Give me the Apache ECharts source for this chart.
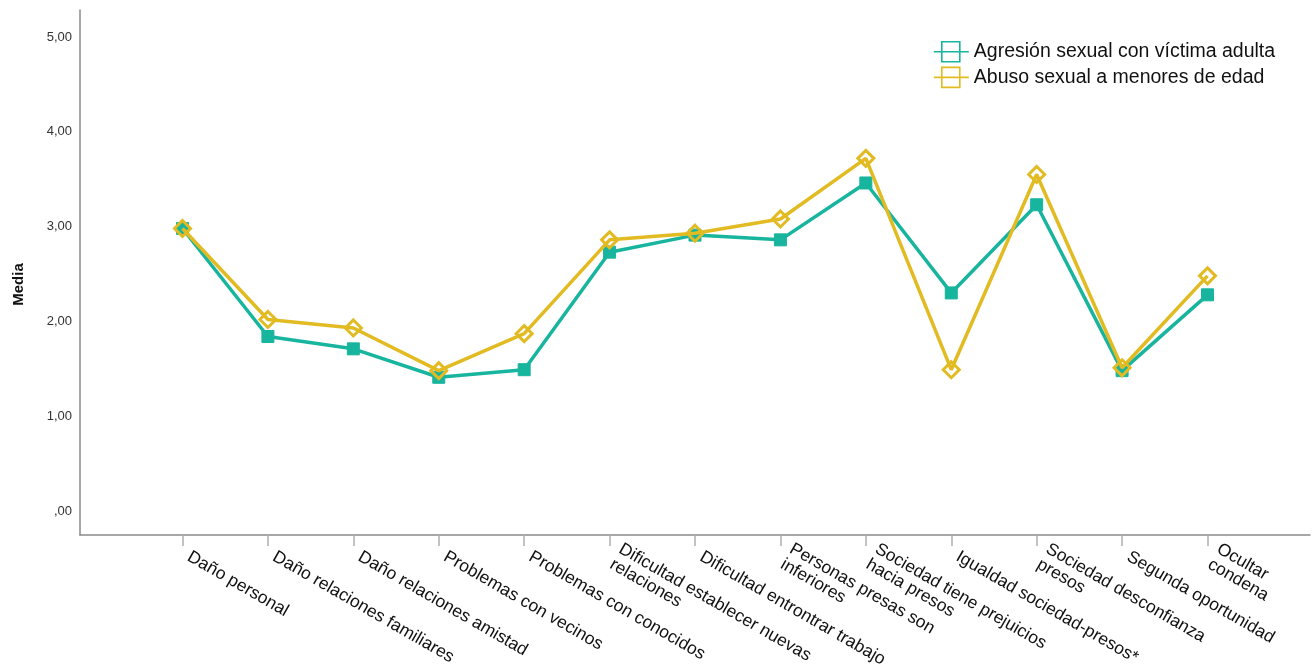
<!DOCTYPE html>
<html>
<head>
<meta charset="utf-8">
<script src="https://cdn.jsdelivr.net/npm/echarts@6/dist/echarts.min.js"></script>
<style>
html,body{margin:0;padding:0;background:#fff;}
#chart{width:1314px;height:666px;}
</style>
</head>
<body>
<div id="chart"></div>
<script>
const categories = [
  "Daño personal",
  "Daño relaciones familiares",
  "Daño relaciones amistad",
  "Problemas con vecinos",
  "Problemas con conocidos",
  "Dificultad establecer nuevas\nrelaciones",
  "Dificultad entrontrar trabajo",
  "Personas presas son\ninferiores",
  "Sociedad tiene prejuicios\nhacia presos",
  "Igualdad sociedad-presos*",
  "Sociedad desconfianza\npresos",
  "Segunda oportunidad",
  "Ocultar\ncondena"
];
const seriesNames = ["Agresión sexual con víctima adulta", "Abuso sexual a menores de edad"];
const agresionAdulta = [2.98, 1.84, 1.71, 1.41, 1.49, 2.73, 2.91, 2.86, 3.46, 2.30, 3.23, 1.48, 2.28];
const abusoMenores   = [2.98, 2.02, 1.93, 1.48, 1.87, 2.86, 2.93, 3.08, 3.72, 1.49, 3.55, 1.51, 2.48];
const yTicks = [0, 1, 2, 3, 4, 5];

const TEAL = '#18b59e';
const GOLD = '#e2bb22';
const FONT = '"Liberation Sans", Arial, sans-serif';
const LEGEND_ICON = 'path://M0,10L35,10M8,0L26,0L26,20L8,20Z';

function toPairs(arr){ return arr.map((v,i)=>[i,v]); }
const catIdx = categories.map((c,i)=>i);

const chart = echarts.init(document.getElementById('chart'), null, {renderer:'canvas'});
chart.setOption({
  animation: false,
  backgroundColor: '#fff',
  textStyle: {fontFamily: FONT},
  grid: {left: 80, top: 10, right: 4, bottom: 131, containLabel: false, outerBoundsMode: 'none'},
  legend: {
    orient: 'vertical',
    left: 928,
    top: 36,
    itemWidth: 35,
    itemHeight: 20,
    itemGap: 4,
    textStyle: {fontSize: 19.5, color: '#111', fontFamily: FONT},
    data: [
      {name: seriesNames[0], icon: LEGEND_ICON, itemStyle: {color: 'rgba(255,255,255,0)', borderColor: TEAL, borderWidth: 1.6}},
      {name: seriesNames[1], icon: LEGEND_ICON, itemStyle: {color: 'rgba(255,255,255,0)', borderColor: GOLD, borderWidth: 1.6}}
    ]
  },
  xAxis: {
    type: 'value',
    min: -1.2,
    max: 13.2,
    splitLine: {show: false},
    axisLine: {show: true, onZero: false, lineStyle: {color: '#8a8a8a', width: 1.5}},
    axisTick: {show: true, customValues: catIdx, length: 11, lineStyle: {color: '#b0b0b0', width: 1.5}},
    axisLabel: {
      customValues: catIdx,
      rotate: -30,
      margin: 17,
      padding: [0, 0, 0, 7],
      fontSize: 17.5,
      color: '#111',
      lineHeight: 18,
      fontFamily: FONT,
      formatter: function(v){ return categories[Math.round(v)] || ''; }
    }
  },
  yAxis: {
    type: 'value',
    min: -0.254,
    max: 5.285,
    name: 'Media',
    nameLocation: 'middle',
    nameGap: 54,
    nameTextStyle: {fontSize: 15, fontWeight: 'bold', color: '#111', fontFamily: FONT, padding: [0,0,0,-24]},
    splitLine: {show: false},
    axisLine: {show: true, onZero: false, lineStyle: {color: '#8a8a8a', width: 1.5}},
    axisTick: {show: false},
    axisLabel: {
      customValues: yTicks,
      margin: 8,
      fontSize: 13,
      color: '#333',
      fontFamily: FONT,
      formatter: function(v){ return v === 0 ? ',00' : v.toFixed(2).replace('.', ','); }
    }
  },
  series: [
    {
      name: seriesNames[0],
      type: 'line',
      data: toPairs(agresionAdulta),
      symbol: 'rect',
      symbolSize: 12,
      lineStyle: {color: TEAL, width: 3.5},
      itemStyle: {color: TEAL, borderColor: TEAL, borderWidth: 1},
      z: 2
    },
    {
      name: seriesNames[1],
      type: 'line',
      data: toPairs(abusoMenores),
      symbol: 'diamond',
      symbolSize: [16, 16],
      showAllSymbol: true,
      lineStyle: {color: GOLD, width: 3.5},
      itemStyle: {color: 'rgba(255,255,255,0)', borderColor: GOLD, borderWidth: 3},
      z: 3
    }
  ]
});
</script>
</body>
</html>
